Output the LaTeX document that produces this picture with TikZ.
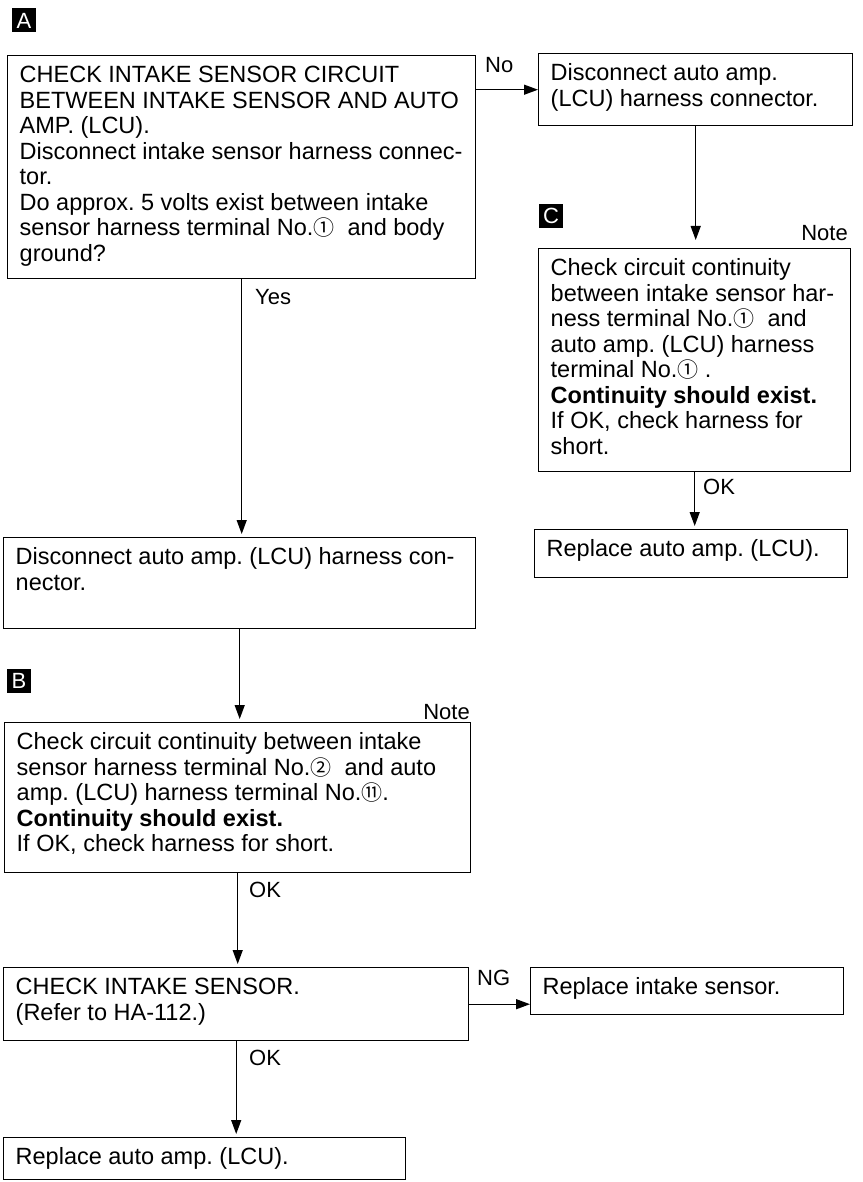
\documentclass[tikz,border=0pt]{standalone}
\usepackage{fontspec}
\setmainfont{Liberation Sans}
\newfontfamily\cjkf{Noto Sans CJK JP}
\usetikzlibrary{arrows.meta}
\newcommand\cn[1]{{\cjkf\fontsize{21}{21}\selectfont #1}}
\newcommand\tbx[3]{\parbox[c][#2][t]{#1}{\raggedright\leftskip=12pt\parindent=0pt\vspace*{9pt}\strut #3}}
\frenchspacing
\tikzset{
  flowbox/.style={draw, line width=1.4pt, anchor=north west, inner sep=0pt,
    font=\fontsize{23.5}{25.5}\selectfont},
  arr/.style={line width=1.3pt, -{Triangle[width=10pt,length=14pt]}},
  lbl/.style={anchor=west, inner sep=0pt, font=\fontsize{22}{24}\selectfont},
  marker/.style={fill=black, text=white, minimum size=24pt, inner sep=0pt,
    font=\fontsize{22}{22}\selectfont}
}
\begin{document}
\begin{tikzpicture}[x=1pt, y=-1pt]
\useasboundingbox (0,0) rectangle (862,1182);
% markers
\node[marker] (mA) at (24,20.5) {A};
\node[marker] (mB) at (19,681) {B};
\node[marker] (mC) at (551,216) {C};
% boxes
\node[flowbox] (boxA) at (7,55) {\tbx{468pt}{223pt}{CHECK INTAKE SENSOR CIRCUIT\\
BETWEEN INTAKE SENSOR AND AUTO\\
AMP. (LCU).\\
Disconnect intake sensor harness connec-\\
tor.\\
Do approx. 5 volts exist between intake\\
sensor harness terminal No.\cn{①}\ \ and body\\
ground?}};
\node[flowbox] (right1) at (538,53) {\tbx{314pt}{72pt}{Disconnect auto amp.\\
(LCU) harness connector.}};
\node[flowbox] (boxC) at (538,248) {\tbx{312pt}{223pt}{Check circuit continuity\\
between intake sensor har-\\
ness terminal No.\cn{①}\ \ and\\
auto amp. (LCU) harness\\
terminal No.\cn{①}\ .\\
\textbf{Continuity should exist.}\\
If OK, check harness for\\
short.}};
\node[flowbox] (replR) at (534,529) {\tbx{313pt}{48pt}{Replace auto amp. (LCU).}};
\node[flowbox] (disc) at (3,537) {\tbx{472pt}{91pt}{Disconnect auto amp. (LCU) harness con-\\
nector.}};
\node[flowbox] (boxB) at (4,722) {\tbx{466pt}{150pt}{Check circuit continuity between intake\\
sensor harness terminal No.\cn{②}\ \ and auto\\
amp. (LCU) harness terminal No.\cn{⑪}.\\
\textbf{Continuity should exist.}\\
If OK, check harness for short.}};
\node[flowbox] (checkS) at (3,967) {\tbx{465pt}{73pt}{CHECK INTAKE SENSOR.\\
(Refer to HA-112.)}};
\node[flowbox] (replS) at (530,967) {\tbx{313pt}{47pt}{Replace intake sensor.}};
\node[flowbox] (last) at (3,1137) {\tbx{402pt}{42pt}{Replace auto amp. (LCU).}};
% connectors
\draw[arr] (right1.west -| boxA.east) -- (right1.west);
\draw[arr, shorten >=8pt] (right1.south) -- (right1.south |- boxC.north);
\draw[arr, shorten >=3pt] (boxC.south) -- (boxC.south |- replR.north);
\draw[arr, shorten >=3pt] (boxA.south) -- (boxA.south |- disc.north);
\draw[arr, shorten >=3pt] (disc.south) -- (disc.south |- boxB.north);
\draw[arr, shorten >=3pt] (boxB.south) -- (boxB.south |- checkS.north);
\draw[arr] (checkS.east) -- (checkS.east -| replS.west);
\draw[arr, shorten >=3pt] (checkS.south) -- (checkS.south |- last.north);
% labels
\node[lbl] (lNo) at (485,65) {No};
\node[lbl] (lYes) at (255,297) {Yes};
\node[lbl] (lOKc) at (703,487) {OK};
\node[lbl] (lOKb) at (249,890) {OK};
\node[lbl] (lNG) at (477,978) {NG};
\node[lbl] (lOKs) at (249,1058) {OK};
\node[lbl, anchor=east] (nB) at (470,712) {Note};
\node[lbl, anchor=east] (nC) at (848,233) {Note};
\end{tikzpicture}
\end{document}
